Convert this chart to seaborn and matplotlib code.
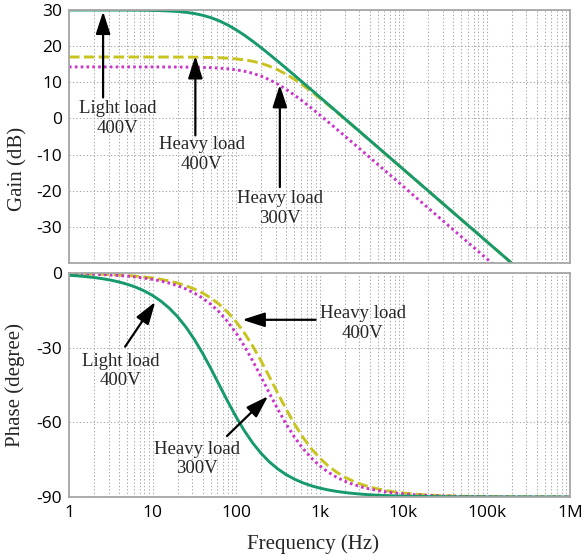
import matplotlib
matplotlib.use("Agg")
import matplotlib.pyplot as plt
import seaborn as sns
from matplotlib.ticker import FixedLocator, FixedFormatter, NullFormatter

# ---------------- data ----------------
freq = [1, 1.259, 1.585, 1.995, 2.512, 3.162, 3.981, 5.012, 6.31, 7.943,
        10, 12.59, 15.85, 19.95, 25.12, 31.62, 39.81, 50.12, 63.1, 79.43,
        100, 125.9, 158.5, 199.5, 251.2, 316.2, 398.1, 501.2, 631, 794.3,
        1000, 1259, 1585, 1995, 2512, 3162, 3981, 5012, 6310, 7943,
        10000, 12590, 15850, 19950, 25120, 31620, 39810, 50120, 63100, 79430,
        100000, 125900, 158500, 199500, 251200, 316200, 398100, 501200, 631000, 794300,
        1000000]

gain_light400 = [30.00, 30.00, 30.00, 30.00, 29.99, 29.99, 29.98, 29.97, 29.96, 29.93,
                 29.89, 29.83, 29.73, 29.59, 29.36, 29.03, 28.54, 27.88, 26.99, 25.88,
                 24.54, 23.03, 21.36, 19.59, 17.73, 15.83, 13.89, 11.93, 9.96, 7.97,
                 5.98, 3.99, 1.99, 0.00, -2.00, -4.00, -6.00, -8.00, -10.00, -12.00,
                 -14.00, -16.00, -18.00, -20.00, -22.00, -24.00, -26.00, -28.00, -30.00, -32.00,
                 -34.00, -36.00, -38.00, -40.00, -42.00, -44.00, -46.00, -48.00, -50.00, -52.00,
                 -54.00]
phase_light400 = [-0.91, -1.14, -1.44, -1.81, -2.28, -2.87, -3.61, -4.54, -5.71, -7.18,
                  -9.01, -11.28, -14.10, -17.55, -21.71, -26.62, -32.25, -38.46, -45.00, -51.54,
                  -57.75, -63.38, -68.29, -72.45, -75.90, -78.72, -80.99, -82.82, -84.29, -85.46,
                  -86.39, -87.13, -87.72, -88.19, -88.56, -88.86, -89.09, -89.28, -89.43, -89.55,
                  -89.64, -89.71, -89.77, -89.82, -89.86, -89.89, -89.91, -89.93, -89.94, -89.95,
                  -89.96, -89.97, -89.98, -89.98, -89.98, -89.99, -89.99, -89.99, -89.99, -90.00,
                  -90.00]

gain_heavy400 = [17.00, 17.00, 17.00, 17.00, 17.00, 17.00, 17.00, 17.00, 17.00, 17.00,
                 16.99, 16.99, 16.99, 16.98, 16.97, 16.95, 16.91, 16.86, 16.79, 16.67,
                 16.48, 16.21, 15.81, 15.24, 14.46, 13.46, 12.24, 10.81, 9.21, 7.49,
                 5.67, 3.79, 1.86, -0.09, -2.05, -4.03, -6.02, -8.01, -10.01, -12.01,
                 -14.00, -16.00, -18.00, -20.00, -22.00, -24.00, -26.00, -28.00, -30.00, -32.00,
                 -34.00, -36.00, -38.00, -40.00, -42.00, -44.00, -46.00, -48.00, -50.00, -52.00,
                 -54.00]
phase_heavy400 = [-0.20, -0.26, -0.32, -0.41, -0.51, -0.64, -0.81, -1.02, -1.28, -1.61,
                  -2.03, -2.56, -3.22, -4.05, -5.09, -6.40, -8.04, -10.08, -12.62, -15.74,
                  -19.53, -24.07, -29.35, -35.30, -41.71, -48.29, -54.70, -60.65, -65.93, -70.47,
                  -74.26, -77.38, -79.92, -81.96, -83.60, -84.91, -85.95, -86.78, -87.44, -87.97,
                  -88.39, -88.72, -88.98, -89.19, -89.36, -89.49, -89.59, -89.68, -89.74, -89.80,
                  -89.84, -89.87, -89.90, -89.92, -89.94, -89.95, -89.96, -89.97, -89.97, -89.98,
                  -89.98]

gain_heavy300 = [14.25, 14.25, 14.25, 14.25, 14.25, 14.25, 14.25, 14.25, 14.25, 14.24,
                 14.24, 14.24, 14.23, 14.22, 14.20, 14.16, 14.11, 14.04, 13.92, 13.73,
                 13.46, 13.06, 12.49, 11.71, 10.71, 9.49, 8.06, 6.46, 4.74, 2.92,
                 1.04, -0.89, -2.84, -4.80, -6.78, -8.77, -10.76, -12.76, -14.76, -16.75,
                 -18.75, -20.75, -22.75, -24.75, -26.75, -28.75, -30.75, -32.75, -34.75, -36.75,
                 -38.75, -40.75, -42.75, -44.75, -46.75, -48.75, -50.75, -52.75, -54.75, -56.75,
                 -58.75]
phase_heavy300 = [-0.26, -0.32, -0.41, -0.51, -0.64, -0.81, -1.02, -1.28, -1.61, -2.03,
                  -2.56, -3.22, -4.05, -5.09, -6.40, -8.04, -10.08, -12.62, -15.74, -19.53,
                  -24.07, -29.35, -35.30, -41.71, -48.29, -54.70, -60.65, -65.93, -70.47, -74.26,
                  -77.38, -79.92, -81.96, -83.60, -84.91, -85.95, -86.78, -87.44, -87.97, -88.39,
                  -88.72, -88.98, -89.19, -89.36, -89.49, -89.59, -89.68, -89.74, -89.80, -89.84,
                  -89.87, -89.90, -89.92, -89.94, -89.95, -89.96, -89.97, -89.97, -89.98, -89.98,
                  -89.98]

x_ticks = [1, 10, 100, 1000, 10000, 100000, 1000000]
x_tick_labels = ["1", "10", "100", "1k", "10k", "100k", "1M"]
gain_ticks = [30, 20, 10, 0, -10, -20, -30]
phase_ticks = [0, -30, -60, -90]

# ---------------- style ----------------
sns.set_theme(style="white")
plt.rcParams["font.family"] = ["Open Sans", "DejaVu Sans"]
plt.rcParams["axes.unicode_minus"] = False
SERIF = ["Liberation Serif", "DejaVu Serif"]

GREEN = "#16996b"
YELLOW = "#c8c31e"
MAGENTA = "#cc33cc"
FRAME = "#a6a6a6"
GRID = "#ababab"

W, H = 583, 560
fig = plt.figure(figsize=(W / 100, H / 100), dpi=100)

def frac_box(l, t, r, b):
    return [l / W, 1 - b / H, (r - l) / W, (b - t) / H]

ax1 = fig.add_axes(frac_box(69, 10, 570, 263))
ax2 = fig.add_axes(frac_box(69, 273, 570, 497))

minor = [m * 10 ** d for d in range(6) for m in range(2, 10)]

for ax in (ax1, ax2):
    ax.set_xscale("log")

series = [
    (gain_heavy400, phase_heavy400, YELLOW, (0, (3.6, 1.5))),
    (gain_heavy300, phase_heavy300, MAGENTA, (0, (0.9, 1.1))),
    (gain_light400, phase_light400, GREEN, "-"),
]
for g, p, c, ls in series:
    sns.lineplot(x=freq, y=g, ax=ax1, color=c, linewidth=2.1, linestyle=ls)
    sns.lineplot(x=freq, y=p, ax=ax2, color=c, linewidth=2.1, linestyle=ls)

for ax in (ax1, ax2):
    ax.set_xlim(1, 1e6)
    ax.xaxis.set_major_locator(FixedLocator(x_ticks))
    ax.xaxis.set_minor_locator(FixedLocator(minor))
    ax.xaxis.set_minor_formatter(NullFormatter())
    ax.grid(True, which="major", axis="both", color=GRID, linestyle=(0, (1.3, 2.0)), linewidth=0.75)
    ax.grid(True, which="minor", axis="x", color=GRID, linestyle=(0, (1.3, 2.0)), linewidth=0.75)
    ax.tick_params(which="both", length=0, labelsize=12.5, colors="black")
    ax.tick_params(axis="y", pad=5)
    ax.tick_params(axis="x", pad=6)
    for s in ax.spines.values():
        s.set_color(FRAME)
        s.set_linewidth(1.3)
    ax.set_axisbelow(True)

ax1.set_ylim(-40, 30)
ax1.yaxis.set_major_locator(FixedLocator(gain_ticks))
ax1.xaxis.set_major_formatter(NullFormatter())

ax2.set_ylim(-90, 0)
ax2.yaxis.set_major_locator(FixedLocator(phase_ticks))
ax2.xaxis.set_major_formatter(FixedFormatter(x_tick_labels))

ax1.set_ylabel("Gain (dB)", family=SERIF, fontsize=15)
ax1.yaxis.set_label_coords(-0.083, 0.37)
ax2.set_ylabel("Phase (degree)", family=SERIF, fontsize=15)
ax2.yaxis.set_label_coords(-0.088, 0.5)
ax2.set_xlabel("Frequency (Hz)", family=SERIF, fontsize=15)
ax2.xaxis.set_label_coords(0.488, -0.165)

ARROW = dict(arrowstyle="-|>,head_length=0.68,head_width=0.22", color="black",
             lw=1.6, mutation_scale=20, shrinkA=0, shrinkB=0)
TXT = dict(family=SERIF, fontsize=13.5, ha="center", va="center", linespacing=1.2)

# top annotations
ax1.annotate("", xy=(2.56, 29.6), xytext=(2.56, 5.8), arrowprops=ARROW)
ax1.text(3.8, 0.0, "Light load\n400V", **TXT)
ax1.annotate("", xy=(32.6, 17.3), xytext=(32.6, -4.7), arrowprops=ARROW)
ax1.text(39, -10, "Heavy load\n400V", **TXT)
ax1.annotate("", xy=(335, 9.3), xytext=(335, -19.0), arrowprops=ARROW)
ax1.text(337, -25, "Heavy load\n300V", **TXT)

# bottom annotations
ax2.annotate("", xy=(10.8, -11.6), xytext=(4.7, -29.6), arrowprops=ARROW)
ax2.text(4.15, -39.4, "Light load\n400V", **TXT)
ax2.annotate("", xy=(119, -18.8), xytext=(898, -18.8), arrowprops=ARROW)
ax2.text(3290, -20.2, "Heavy load\n400V", **TXT)
ax2.annotate("", xy=(242, -49.5), xytext=(78, -65.5), arrowprops=ARROW)
ax2.text(34.4, -74.8, "Heavy load\n300V", **TXT)

fig.savefig("out.png", dpi=100)
